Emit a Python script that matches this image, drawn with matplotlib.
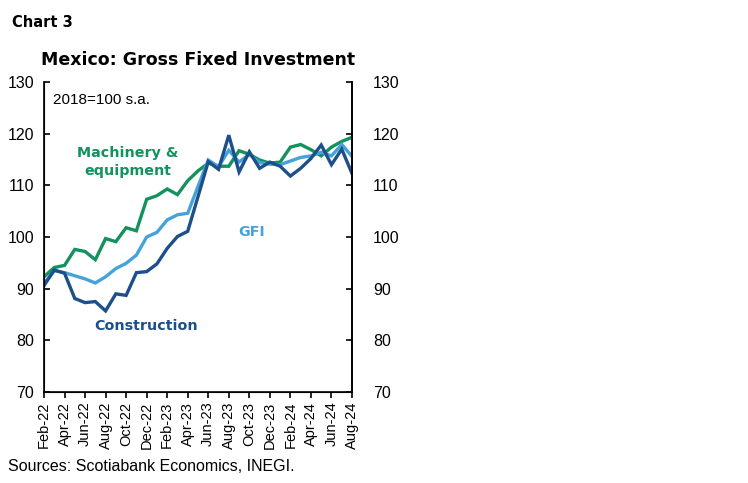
import matplotlib
matplotlib.use("Agg")
import matplotlib.pyplot as plt
import numpy as np

months = ["Feb-22","Mar-22","Apr-22","May-22","Jun-22","Jul-22","Aug-22","Sep-22","Oct-22","Nov-22",
          "Dec-22","Jan-23","Feb-23","Mar-23","Apr-23","May-23","Jun-23","Jul-23","Aug-23","Sep-23",
          "Oct-23","Nov-23","Dec-23","Jan-24","Feb-24","Mar-24","Apr-24","May-24","Jun-24","Jul-24","Aug-24"]

machinery = [92.3, 94.1, 94.5, 97.6, 97.2, 95.6, 99.7, 99.1, 101.8, 101.2,
             107.3, 108.0, 109.3, 108.2, 110.9, 112.8, 114.3, 113.7, 113.7, 116.7,
             116.0, 114.9, 114.3, 114.5, 117.4, 117.9, 116.9, 115.7, 117.4, 118.5, 119.3]

construction = [90.6, 93.6, 93.0, 88.1, 87.3, 87.5, 85.7, 89.0, 88.7, 93.1,
                93.3, 94.8, 97.8, 100.1, 101.1, 107.8, 114.6, 113.1, 119.7, 112.6,
                116.5, 113.3, 114.5, 113.7, 111.8, 113.3, 115.2, 117.8, 114.0, 117.0, 112.3]

gfi = [91.0, 93.5, 93.1, 92.5, 91.9, 91.1, 92.3, 93.9, 94.9, 96.5,
       100.0, 100.9, 103.3, 104.3, 104.6, 109.8, 114.9, 113.6, 116.8, 114.5,
       116.0, 114.4, 114.1, 114.0, 114.7, 115.4, 115.7, 116.4, 115.7, 117.9, 115.6]

yticks = [70, 80, 90, 100, 110, 120, 130]

c_green = "#14915c"
c_light = "#45a2da"
c_dark = "#1d4f8b"

fig = plt.figure(figsize=(7.48, 4.83), dpi=100)
ax = fig.add_axes([0.0588, 0.1884, 0.4118, 0.6418])

x = np.arange(len(months))
ax.plot(x, machinery, color=c_green, lw=2.4, solid_joinstyle="miter")
ax.plot(x, gfi, color=c_light, lw=2.4, solid_joinstyle="miter")
ax.plot(x, construction, color=c_dark, lw=2.4, solid_joinstyle="miter")

ax.set_xlim(0, len(months) - 1)
ax.set_ylim(70, 130)
ax.set_yticks(yticks)
ax.set_yticklabels([str(v) for v in yticks], fontsize=11.5, family="Liberation Sans")
ax.set_xticks(x[::2])
ax.set_xticklabels(months[::2], rotation=90, fontsize=10.5, family="Liberation Sans")

ax.spines["top"].set_visible(False)
for s in ["left", "right", "bottom"]:
    ax.spines[s].set_linewidth(1.2)
ax.tick_params(axis="y", direction="in", length=4, width=1.2, pad=7, left=True, right=False)
ax.tick_params(axis="x", direction="out", length=4, width=1.2, pad=3)

ax2 = ax.twinx()
ax2.set_ylim(70, 130)
ax2.set_yticks(yticks)
ax2.set_yticklabels([str(v) for v in yticks], fontsize=11.5, family="Liberation Sans")
ax2.spines["top"].set_visible(False)
ax2.spines["right"].set_linewidth(1.2)
ax2.tick_params(axis="y", direction="in", length=4, width=1.2, pad=15)

fig.text(0.016, 0.968, "Chart 3", fontsize=10.5, fontweight="bold", family="DejaVu Sans",
         va="top", ha="left")
fig.text(0.265, 0.876, "Mexico: Gross Fixed Investment", fontsize=12.5, fontweight="bold",
         family="DejaVu Sans", ha="center", va="center")
ax.text(0.03, 0.965, "2018=100 s.a.", transform=ax.transAxes, fontsize=11,
        family="Liberation Sans", ha="left", va="top")
ax.text(8.2, 114.6, "Machinery &\nequipment", color=c_green, fontsize=10.3, fontweight="semibold",
        family="DejaVu Sans", ha="center", va="center", linespacing=1.35)
ax.text(20.2, 100.9, "GFI", color=c_light, fontsize=10.3, fontweight="semibold",
        family="DejaVu Sans", ha="center", va="center")
ax.text(9.9, 82.7, "Construction", color=c_dark, fontsize=10.3, fontweight="semibold",
        family="DejaVu Sans", ha="center", va="center")

fig.text(0.011, 0.035, "Sources: Scotiabank Economics, INEGI.", fontsize=11.5,
         family="Liberation Sans", ha="left", va="center")

fig.savefig("out.png", dpi=100)
